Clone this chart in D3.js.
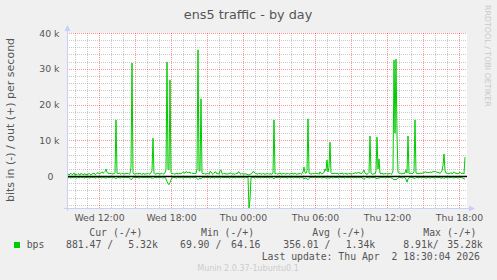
<!DOCTYPE html>
<html>
<head>
<meta charset="utf-8">
<script src="https://cdn.jsdelivr.net/npm/d3@7"></script>
<style>
  body { margin: 0; background: #f0f0f0; }
  svg { display: block; }
</style>
</head>
<body>
<div id="chart"></div>
<script>
// traffic in kbit/s, one sample per 5 minutes, Wed 09:20 -> Thu 18:30
var outK = [
  0.5,0.7,0.3,0.6,0.8,0.4,0.5,0.9,0.3,0.6,0.4,0.7,0.5,0.3,0.8,0.6,0.4,0.5,0.7,0.3,
  0.6,0.4,0.8,0.5,0.3,0.7,0.6,0.9,0.4,0.5,0.8,1.0,0.6,0.7,0.9,1.2,0.8,1.0,1.3,2.0,
  1.1,0.7,0.9,0.6,0.8,0.5,0.7,0.6,0.9,15.7,0.8,0.6,0.9,0.7,0.5,0.8,0.6,0.7,0.5,0.9,
  0.6,0.8,0.5,0.7,2.5,31.6,0.9,0.5,0.7,0.6,0.8,0.5,0.9,0.6,0.7,0.4,0.8,0.6,0.5,0.7,
  0.6,0.8,0.5,0.7,0.9,1.5,10.6,0.8,0.5,0.7,0.6,0.9,0.5,0.7,0.6,0.8,0.5,0.7,0.9,1.8,
  31.9,2.0,1.8,26.9,1.0,0.6,0.8,0.5,0.7,0.6,0.9,0.5,0.8,0.7,0.6,0.9,1.2,1.0,0.8,1.3,
  1.1,0.9,1.2,0.8,1.0,0.7,0.9,0.6,0.8,0.7,2.0,35.28,1.5,1.4,21.6,0.9,0.6,0.8,0.5,0.7,
  0.6,0.8,0.5,1.3,1.2,0.7,0.5,0.8,1.2,1.1,0.6,0.8,0.5,1.6,1.7,0.7,0.5,0.8,0.6,0.7,
  0.5,0.7,0.6,0.9,0.8,0.5,0.7,0.6,0.5,0.8,0.6,1.1,1.2,0.7,0.5,0.8,0.6,0.5,0.7,0.6,
  0.5,0.4,0.3,0.5,0.6,0.8,1.3,1.1,0.9,0.6,0.7,0.5,0.8,0.6,0.7,0.5,0.8,0.6,0.5,0.7,
  0.6,0.8,0.5,0.7,0.6,0.5,0.9,15.7,0.6,0.8,0.5,0.7,0.6,0.9,0.5,0.7,0.6,0.8,0.5,0.7,
  0.6,0.8,0.5,0.7,0.6,0.9,0.5,0.7,0.8,0.6,0.5,0.7,0.6,0.8,0.5,0.7,1.2,2.5,1.0,0.8,
  1.5,16.0,0.9,0.6,0.7,0.5,0.8,0.6,0.7,0.9,0.6,0.8,0.5,1.2,0.7,0.6,0.9,1.0,2.0,1.5,
  4.5,1.2,2.5,9.5,1.0,0.6,0.8,0.7,0.9,0.6,0.8,0.7,0.5,0.8,0.6,0.9,0.7,0.5,0.8,0.6,
  0.7,0.5,0.8,0.6,0.7,0.5,0.8,0.6,1.0,0.9,0.7,1.1,0.8,1.0,0.6,0.9,1.2,1.7,0.9,0.6,
  0.5,0.7,1.0,11.2,0.8,0.6,0.5,0.7,0.6,1.5,10.9,2.0,4.8,0.8,0.6,0.9,0.5,0.7,0.6,0.8,
  0.5,0.7,0.6,0.8,0.5,0.7,1.5,32.4,12.0,32.7,11.5,1.0,0.8,0.9,0.7,0.6,0.8,0.7,0.9,1.8,
  0.9,11.2,0.8,0.7,0.9,0.6,0.8,1.2,15.7,0.9,0.7,0.8,0.6,0.9,0.7,0.8,0.9,1.0,1.2,1.1,
  1.0,1.1,0.9,1.2,1.0,1.1,1.3,1.2,1.4,1.2,1.0,1.1,0.9,0.8,1.0,1.5,3.0,6.2,1.5,0.8,
  0.9,0.6,0.8,0.7,1.0,0.6,0.8,1.2,0.9,0.7,0.8,0.6,0.9,1.1,0.8,0.7,0.9,0.6,5.32
];
var inK = [
  0.3,0.5,0.4,0.2,0.6,0.3,0.4,0.5,0.2,0.4,0.6,0.3,0.5,0.4,0.2,0.5,0.3,0.6,0.4,0.3,
  0.5,0.3,0.4,0.6,0.2,0.4,0.3,0.5,0.4,0.6,0.3,0.4,0.5,0.3,0.4,0.6,0.3,0.5,0.4,0.6,
  0.4,0.3,0.5,0.4,0.3,0.6,0.4,0.3,0.5,0.8,0.4,0.3,0.5,0.4,0.6,0.3,0.4,0.5,0.3,0.4,
  0.5,0.3,0.4,0.6,1.0,0.8,0.4,0.3,0.5,0.4,0.3,0.5,0.4,0.6,0.3,0.4,0.5,0.3,0.4,0.5,
  0.3,0.4,0.5,0.3,0.6,0.4,0.7,0.4,0.3,0.5,0.4,0.3,0.5,0.4,0.3,0.6,0.4,0.5,0.3,0.8,
  1.5,2.0,2.4,1.8,1.0,0.5,0.4,0.3,0.5,0.4,0.6,0.3,0.4,0.5,0.3,0.4,0.6,0.4,0.3,0.5,
  0.4,0.3,0.5,0.4,0.6,0.3,0.4,0.5,0.3,0.4,0.6,1.0,0.7,0.5,0.8,0.4,0.3,0.5,0.4,0.3,
  0.5,0.4,0.3,0.6,0.4,0.3,0.5,0.4,0.6,0.3,0.4,0.5,0.3,0.4,0.6,0.3,0.4,0.5,0.3,0.4,
  0.5,0.3,0.4,0.6,0.3,0.4,0.5,0.3,0.4,0.6,0.3,0.4,0.5,0.3,0.4,0.5,0.3,0.4,0.6,0.3,
  0.4,0.3,8.91,6.5,0.4,0.5,0.3,0.4,0.6,0.3,0.4,0.5,0.3,0.4,0.6,0.3,0.4,0.5,0.3,0.4,
  0.5,0.3,0.4,0.6,0.3,0.4,0.5,0.8,0.4,0.3,0.5,0.4,0.3,0.6,0.4,0.3,0.5,0.4,0.3,0.5,
  0.4,0.6,0.3,0.4,0.5,0.3,0.4,0.6,0.3,0.4,0.5,0.3,0.4,0.6,0.3,0.4,0.5,0.7,0.6,0.5,
  0.8,1.0,0.6,0.4,0.3,0.5,0.4,0.3,0.6,0.4,0.3,0.5,0.4,0.3,0.6,0.4,0.5,0.3,0.4,0.6,
  0.5,0.4,0.6,0.5,0.3,0.4,0.6,0.3,0.4,0.5,0.3,0.4,0.6,0.3,0.4,0.5,0.3,0.4,0.6,0.3,
  0.4,0.5,0.3,0.4,0.6,0.3,0.4,0.5,0.3,0.4,0.6,0.3,0.4,0.5,0.3,0.5,0.6,0.9,0.7,0.4,
  0.3,0.5,0.4,0.6,0.3,0.4,0.5,0.3,0.4,0.6,0.8,0.5,0.6,0.4,0.3,0.5,0.4,0.3,0.6,0.4,
  0.3,0.5,0.4,0.3,0.6,0.4,0.8,1.0,0.9,1.0,0.8,0.5,0.4,0.3,0.5,0.4,0.6,0.3,0.4,0.9,
  1.7,0.8,0.5,0.4,0.3,0.5,0.4,0.6,0.7,0.4,0.3,0.5,0.4,0.3,0.6,0.4,0.3,0.5,0.4,0.6,
  0.5,0.3,0.4,0.6,0.4,0.3,0.5,0.4,0.6,0.3,0.4,0.5,0.3,0.4,0.6,0.5,0.4,0.7,0.5,0.3,
  0.4,0.6,0.3,0.5,0.4,0.3,0.6,0.4,0.5,0.3,0.4,0.6,0.4,0.3,0.5,0.4,0.6,0.7,0.88
];

var yTicks = [0, 10, 20, 30, 40];
var legendHead = ["Cur (-/+)", "Min (-/+)", "Avg (-/+)", "Max (-/+)"];
var legendVals = ["881.47 /", "5.32k", "69.90 /", "64.16", "356.01 /", "1.34k", "8.91k/", "35.28k"];

var svgWidth = 497, svgHeight = 280;
var plot = { left: 67, right: 467, top: 33, bottom: 208 };
var startTime = new Date(2026, 3, 1, 9, 20);
var endTime = new Date(2026, 3, 2, 18, 40);
var stepMs = 5 * 60 * 1000;

var svg = d3.select("#chart").append("svg")
    .attr("width", svgWidth)
    .attr("height", svgHeight);

svg.append("rect").attr("width", svgWidth).attr("height", svgHeight).attr("fill", "#f0f0f0");
svg.append("rect")
    .attr("x", plot.left).attr("y", plot.top)
    .attr("width", plot.right - plot.left).attr("height", plot.bottom - plot.top)
    .attr("fill", "#ffffff");

var x = d3.scaleTime().domain([startTime, endTime]).range([plot.left, plot.right]);
var y = d3.scaleLinear().domain([-8.91, 40]).range([plot.bottom, plot.top]);

function timeAt(i) { return new Date(startTime.getTime() + i * stepMs); }

// grid
var gridG = svg.append("g").attr("shape-rendering", "crispEdges");
var hours = x.ticks(d3.timeHour.every(1));
gridG.selectAll(".vgrid").data(hours).enter().append("line")
    .attr("x1", d => Math.round(x(d)) + 0.5)
    .attr("x2", d => Math.round(x(d)) + 0.5)
    .attr("y1", plot.top).attr("y2", plot.bottom)
    .attr("stroke", d => d.getHours() % 3 === 0 ? "rgba(255,0,0,0.4)" : "rgba(140,140,140,0.45)")
    .attr("stroke-dasharray", "1,1");

var hvals = d3.range(-8, 41, 2);
gridG.selectAll(".hgrid").data(hvals).enter().append("line")
    .attr("x1", plot.left).attr("x2", plot.right)
    .attr("y1", d => Math.round(y(d)) + 0.5)
    .attr("y2", d => Math.round(y(d)) + 0.5)
    .attr("stroke", d => d % 10 === 0 ? "rgba(255,0,0,0.4)" : "rgba(140,140,140,0.45)")
    .attr("stroke-dasharray", "1,1");

// data lines
var outLine = d3.line().x((d, i) => x(timeAt(i))).y(d => y(d));
var inLine = d3.line().x((d, i) => x(timeAt(i))).y(d => y(-d));

svg.append("path").datum(inK)
    .attr("d", inLine).attr("fill", "none")
    .attr("stroke", "#00cc00").attr("stroke-width", 1);
svg.append("path").datum(outK)
    .attr("d", outLine).attr("fill", "none")
    .attr("stroke", "#00cc00").attr("stroke-width", 1);

// zero line
svg.append("line")
    .attr("x1", plot.left).attr("x2", plot.right)
    .attr("y1", Math.round(y(0)) + 0.5).attr("y2", Math.round(y(0)) + 0.5)
    .attr("stroke", "#000").attr("stroke-width", 1.6);

// axis lines with arrows
var axisColor = "#c8d0f4";
svg.append("line")
    .attr("x1", plot.left + 0.5).attr("x2", plot.left + 0.5)
    .attr("y1", plot.bottom + 3).attr("y2", plot.top - 4)
    .attr("stroke", axisColor).attr("shape-rendering", "crispEdges");
svg.append("line")
    .attr("x1", plot.left - 3).attr("x2", plot.right + 4)
    .attr("y1", plot.bottom + 0.5).attr("y2", plot.bottom + 0.5)
    .attr("stroke", axisColor).attr("shape-rendering", "crispEdges");
svg.append("path")
    .attr("d", `M${plot.left + 0.5},${plot.top - 8} L${plot.left - 2.5},${plot.top - 2} L${plot.left + 3.5},${plot.top - 2} Z`)
    .attr("fill", axisColor);
svg.append("path")
    .attr("d", `M${plot.right + 8},${plot.bottom + 0.5} L${plot.right + 2},${plot.bottom - 2.5} L${plot.right + 2},${plot.bottom + 3.5} Z`)
    .attr("fill", axisColor);

// y axis labels
var yAxis = d3.axisLeft(y).tickValues(yTicks).tickSize(0).tickPadding(7.5)
    .tickFormat(d => d === 0 ? "0" : d + " k");
var yAxisG = svg.append("g").attr("transform", `translate(${plot.left},0)`).call(yAxis);
yAxisG.select(".domain").remove();
yAxisG.attr("font-family", "DejaVu Sans").attr("font-size", 9.33);
yAxisG.selectAll("text").attr("fill", "#555")
    .attr("dx", d => d === 0 ? -6 : 0);

// x axis labels
var xAxis = d3.axisBottom(x).ticks(d3.timeHour.every(6)).tickSize(0).tickPadding(6.4)
    .tickFormat(d3.timeFormat("%a %H:%M"));
var xAxisG = svg.append("g").attr("transform", `translate(0,${plot.bottom})`).call(xAxis);
xAxisG.select(".domain").remove();
xAxisG.attr("font-family", "DejaVu Sans").attr("font-size", 9.33);
xAxisG.selectAll("text").attr("fill", "#555");

// title
svg.append("text")
    .attr("x", 248).attr("y", 19)
    .attr("text-anchor", "middle")
    .attr("font-family", "DejaVu Sans").attr("font-size", 12.8)
    .attr("fill", "#555")
    .text("ens5 traffic - by day");

// vertical label
svg.append("text")
    .attr("transform", "translate(13.5,120) rotate(-90)")
    .attr("text-anchor", "middle")
    .attr("font-family", "DejaVu Sans").attr("font-size", 11)
    .attr("fill", "#555")
    .text("bits in (-) / out (+) per second");

// watermark
svg.append("text")
    .attr("transform", "translate(485,5) rotate(90)")
    .attr("font-family", "DejaVu Sans").attr("font-size", 7.9)
    .attr("fill", "#c8c8c8")
    .text("RRDTOOL / TOBI OETIKER");

// legend
var mono = "DejaVu Sans Mono";
var headX = [89.3, 201, 312.3, 423.3];
svg.selectAll(".lhead").data(legendHead).enter().append("text")
    .attr("x", (d, i) => headX[i]).attr("y", 235.5)
    .attr("font-family", mono).attr("font-size", 9.8).attr("fill", "#555")
    .text(d => d);

svg.append("rect").attr("x", 14).attr("y", 242).attr("width", 6).attr("height", 6).attr("fill", "#00cc00");
svg.append("text").attr("x", 26.7).attr("y", 248)
    .attr("font-family", mono).attr("font-size", 9.8).attr("fill", "#555").text("bps");

var valX = [66, 128.3, 180, 231, 283.3, 345.7, 403.3, 447.3];
svg.selectAll(".lval").data(legendVals).enter().append("text")
    .attr("x", (d, i) => valX[i]).attr("y", 248)
    .attr("font-family", mono).attr("font-size", 9.8).attr("fill", "#555")
    .text(d => d);

svg.append("text").attr("x", 261.7).attr("y", 259.5)
    .attr("font-family", mono).attr("font-size", 9.8).attr("fill", "#555")
    .attr("xml:space", "preserve").style("white-space", "pre")
    .text("Last update: Thu Apr  2 18:30:04 2026");

svg.append("text").attr("x", 248).attr("y", 271)
    .attr("text-anchor", "middle")
    .attr("font-family", "DejaVu Sans").attr("font-size", 8).attr("fill", "#cccccc")
    .text("Munin 2.0.37-1ubuntu0.1");
</script>
</body>
</html>
